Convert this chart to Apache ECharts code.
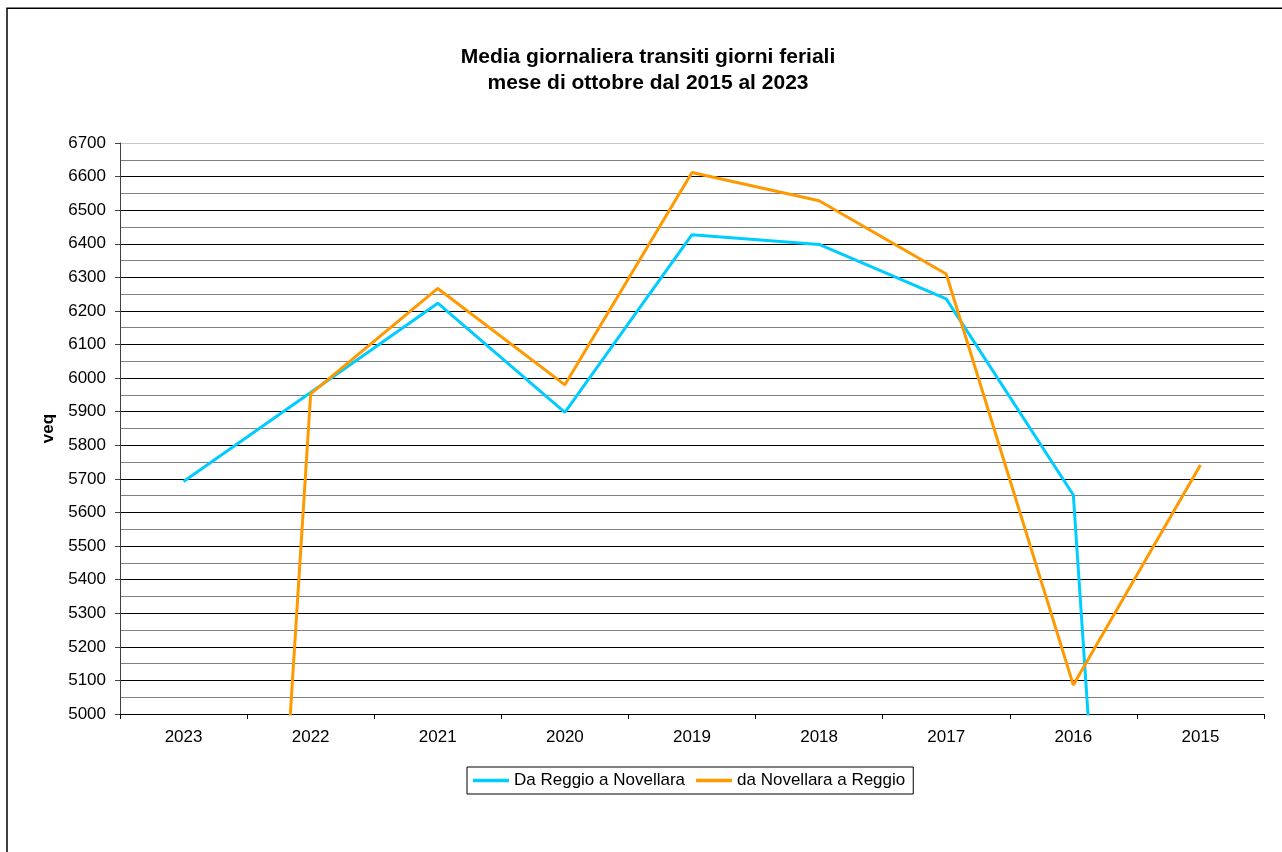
<!DOCTYPE html>
<html>
<head>
<meta charset="utf-8">
<script src="https://cdn.jsdelivr.net/npm/echarts@6/dist/echarts.min.js"></script>
<style>
html,body{margin:0;padding:0;background:#fff;}
#chart{width:1282px;height:852px;}
</style>
</head>
<body>
<div id="chart"></div>
<script>
const titleLines = ['Media giornaliera transiti giorni feriali', 'mese di ottobre dal 2015 al 2023'];
const years = ['2023', '2022', '2021', '2020', '2019', '2018', '2017', '2016', '2015'];
const seriesNames = ['Da Reggio a Novellara', 'da Novellara a Reggio'];
const daReggio = [5692, 5957, 6223, 5898, 6427, 6398, 6236, 5652, 0];
const daNovellara = [0, 5953, 6267, 5980, 6612, 6528, 6310, 5086, 5741];
const yMin = 5000, yMax = 6700, yStep = 100;
const yAxisName = 'veq';

const FONT = '"Liberation Sans", Arial, sans-serif';
const gridColors = [];
for (let v = yMin; v <= yMax; v += yStep) gridColors.push(v === yMax ? '#c8c8c8' : '#000000');

const chart = echarts.init(document.getElementById('chart'));
chart.setOption({
  animation: false,
  backgroundColor: '#ffffff',
  textStyle: { fontFamily: FONT, color: '#000' },
  graphic: [
    { type: 'rect', shape: { x: 7, y: 8.3, width: 1400, height: 1000 }, style: { fill: 'none', stroke: '#000', lineWidth: 1.5 }, silent: true },
    { type: 'text', x: 648, y: 44, style: { text: titleLines.join('\n'), textAlign: 'center', textVerticalAlign: 'top', fontFamily: FONT, fontWeight: 'bold', fontSize: 21, lineHeight: 26, fill: '#000' }, silent: true }
  ],
  grid: { left: 120, right: 18, top: 143, bottom: 138, containLabel: false },
  legend: {
    left: 467, top: 767,
    padding: [5, 8, 5, 6],
    borderColor: '#000', borderWidth: 1,
    icon: 'rect',
    itemWidth: 36, itemHeight: 3.5, itemGap: 11,
    textStyle: { fontFamily: FONT, fontSize: 17, color: '#000', padding: [0, 0, 0, 0], lineHeight: 17 },
    data: seriesNames
  },
  xAxis: {
    type: 'category',
    data: years,
    boundaryGap: true,
    axisLine: { show: true, lineStyle: { color: '#000', width: 1 } },
    axisTick: { show: true, length: 5, alignWithLabel: false, lineStyle: { color: '#000' } },
    axisLabel: { margin: 15, fontSize: 17, fontFamily: FONT, color: '#000' },
    splitLine: { show: false }
  },
  yAxis: {
    type: 'value',
    min: yMin, max: yMax, interval: yStep,
    name: yAxisName,
    nameLocation: 'middle',
    nameGap: 56,
    nameTextStyle: { fontFamily: FONT, fontSize: 17, fontWeight: 'bold', color: '#000' },
    axisLine: { show: true, lineStyle: { color: '#404040', width: 1 } },
    axisTick: { show: true, length: 5, lineStyle: { color: '#404040' } },
    axisLabel: { margin: 14, fontSize: 17, fontFamily: FONT, color: '#000', formatter: function (v) { return String(v); } },
    splitLine: { show: true, lineStyle: { color: gridColors, width: 1 } },
    minorTick: { show: false, splitNumber: 2 },
    minorSplitLine: { show: true, lineStyle: { color: '#808080', width: 1 } }
  },
  series: [
    { name: seriesNames[0], type: 'line', data: daReggio, symbol: 'none', clip: true, lineStyle: { color: '#00CCFF', width: 3 }, itemStyle: { color: '#00CCFF' } },
    { name: seriesNames[1], type: 'line', data: daNovellara, symbol: 'none', clip: true, lineStyle: { color: '#FF9900', width: 3 }, itemStyle: { color: '#FF9900' } }
  ]
});
</script>
</body>
</html>
